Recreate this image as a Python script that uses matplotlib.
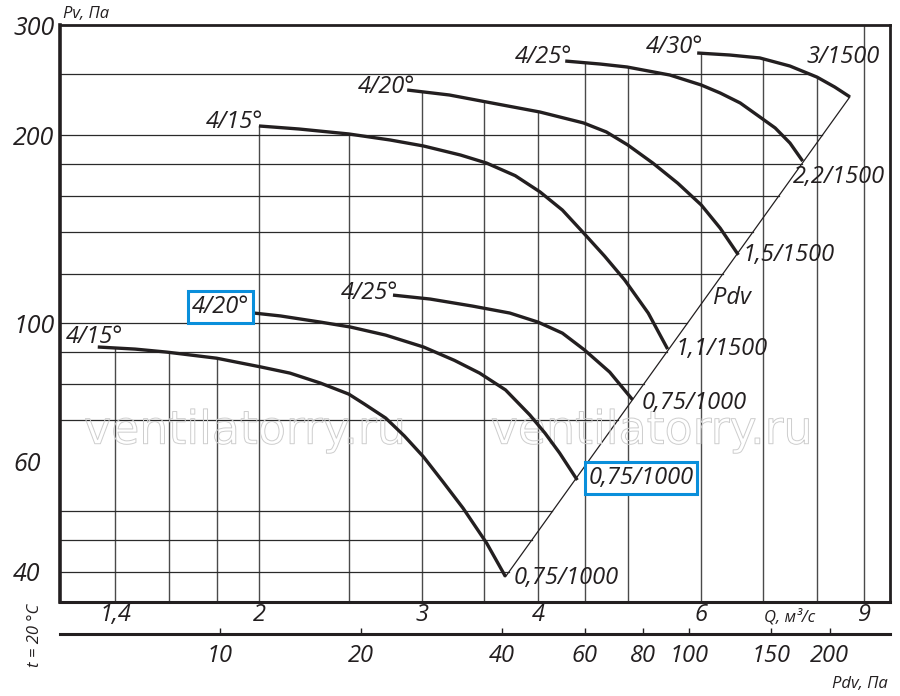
import matplotlib

matplotlib.use("Agg")
import matplotlib.patheffects as path_effects
import matplotlib.pyplot as plt
import numpy as np
from matplotlib.ticker import NullLocator

plt.rcParams["font.family"] = ["Open Sans", "DejaVu Sans"]
plt.rcParams["font.style"] = "italic"

# Fan curves: Q in m3/s, Pv in Pa.
q_low_15 = [1.34, 1.47, 1.59, 1.80, 2.01, 2.16, 2.33, 2.50, 2.60, 2.74, 2.87,
            3.01, 3.16, 3.32, 3.52, 3.69]
pv_low_15 = [91.6, 90.9, 89.9, 87.9, 85.1, 83.2, 80.2, 77.0, 74.2, 70.5, 66.0,
             61.1, 55.7, 50.6, 44.5, 39.3]
q_low_20 = [1.93, 2.11, 2.33, 2.51, 2.74, 3.01, 3.25, 3.46, 3.69, 3.92, 4.07,
            4.22, 4.41]
pv_low_20 = [104.2, 102.7, 100.4, 98.6, 95.7, 91.6, 87.2, 83.2, 78.2, 71.3, 66.7,
             62.0, 56.1]
q_low_25 = [2.79, 3.06, 3.40, 3.73, 4.00, 4.25, 4.49, 4.78, 5.06]
pv_low_25 = [110.9, 109.3, 106.5, 103.8, 100.4, 96.4, 90.6, 83.5, 75.4]
q_up_15 = [2.0, 2.21, 2.50, 2.77, 3.01, 3.30, 3.52, 3.78, 4.02, 4.25, 4.48,
           4.72, 4.96, 5.26, 5.52]
pv_up_15 = [206.8, 204.5, 200.8, 196.4, 192.1, 185.8, 180.4, 172.2, 162.2, 151.7,
            139.4, 128.0, 117.3, 103.8, 90.9]
q_up_20 = [2.89, 3.21, 3.52, 4.02, 4.48, 4.74, 5.00, 5.32, 5.66, 6.00, 6.29, 6.58]
pv_up_20 = [236.1, 231.8, 225.9, 217.7, 209.1, 202.3, 192.8, 180.4, 167.5, 154.6,
            141.9, 128.6]
q_up_25 = [4.28, 4.67, 4.99, 5.55, 6.00, 6.29, 6.61, 6.94, 7.21, 7.48, 7.72]
pv_up_25 = [262.7, 259.8, 257.0, 249.5, 240.5, 233.5, 225.1, 213.8, 205.3, 194.2,
            181.7]
q_up_30 = [5.94, 6.44, 6.94, 7.48, 8.00, 8.36, 8.68]
pv_up_30 = [270.6, 268.6, 265.7, 257.9, 247.6, 238.7, 230.2]

angle_labels = ["4/15°", "4/20°", "4/25°", "4/15°", "4/20°", "4/25°", "4/30°"]
motor_labels = ["0,75/1000", "0,75/1000", "0,75/1000",
                "1,1/1500", "1,5/1500", "2,2/1500", "3/1500"]
boxed_curve = 1

q_ticks = [1.4, 2, 3, 4, 6, 9]
q_tick_labels = ["1,4", "2", "3", "4", "6", "9"]
pv_ticks = [40, 60, 100, 200, 300]
pv_tick_labels = ["40", "60", "100", "200", "300"]
pdv_ticks = [10, 20, 40, 60, 80, 100, 150, 200]
pdv_tick_labels = ["10", "20", "40", "60", "80", "100", "150", "200"]

q_grid = [1.4, 1.6, 1.8, 2, 2.5, 3, 3.5, 4, 4.5, 5, 6, 7, 8, 9]
pv_grid = [40, 45, 50, 70, 80, 90, 100, 120, 140, 160, 180, 200, 250]

# layout (pixel offsets -> points at 100 dpi)
PX = 0.72
Q_LIM = (1.22, 9.59)
PV_LIM = (35.8, 300)
PDV_LIM = (4.56, 269)
INK = "#231f20"
BLUE = "#0a8fdb"
angle_offsets = [(25, 10), (5, 5), (5, 2), (4, 4), (8, 3), (7, 4), (6, 6)]
motor_offsets = [(8, -1, "left"), (11, 2, "left"), (9, -3, "left"), (8, 0, "left"),
                 (4, 0, "left"), (-10, -16, "left"), (30, 40, "right")]


def envelope(q_values, curves):
    # Highest curve above each Q, nan where no curve exists.
    q_values = np.asarray(q_values, dtype=float)
    top = np.full(len(q_values), np.nan)
    for q, pv in curves:
        inside = (q_values >= q[0]) & (q_values <= q[-1])
        vals = 10 ** np.interp(np.log10(q_values), np.log10(q), np.log10(pv))
        top = np.where(inside & ~(top >= vals), vals, top)
    return top


curves = [(q_low_15, pv_low_15), (q_low_20, pv_low_20), (q_low_25, pv_low_25),
          (q_up_15, pv_up_15), (q_up_20, pv_up_20), (q_up_25, pv_up_25),
          (q_up_30, pv_up_30)]

fig = plt.figure(figsize=(9, 6.96), dpi=100)
left, width = 60 / 900, 830 / 900
ax = fig.add_axes([left, 1 - 602 / 696, width, 577 / 696])
ax.set_xscale("log")
ax.set_yscale("log")
ax.set_xlim(*Q_LIM)
ax.set_ylim(*PV_LIM)

# grid, clipped to the area under the curves
for qg in q_grid:
    top = envelope([qg], curves)[0]
    if np.isnan(top):
        top = PV_LIM[1]
    ax.plot([qg, qg], [PV_LIM[0], top], color="#4a4a4a", lw=1.0, zorder=1)

ends = sorted((q[-1], pv[-1]) for q, pv in curves)
end_q = [ends[0][0], ends[-1][0]]
end_pv = [ends[0][1], ends[-1][1]]
q_dense = np.geomspace(Q_LIM[0], Q_LIM[1], 3000)
env_dense = envelope(q_dense, curves)
for pg in pv_grid:
    q_diag = 10 ** np.interp(np.log10(pg), np.log10(end_pv), np.log10(end_q))
    above = q_dense[env_dense >= pg]
    q_end = min(q_diag, above.max()) if len(above) else q_diag
    ax.plot([Q_LIM[0], q_end], [pg, pg], color="#2a2a2a", lw=0.9, zorder=1)

# Pdv line through the curve ends
ax.plot(end_q, end_pv, color=INK, lw=0.9, zorder=2)

for i, (q, pv) in enumerate(curves):
    ax.plot(q, pv, color=INK, lw=2.4, solid_capstyle="butt",
            solid_joinstyle="round", zorder=3)
    box = None
    if i == boxed_curve:
        box = dict(boxstyle="square,pad=0.16", fc="white", ec=BLUE, lw=2.2)
    dx, dy = angle_offsets[i]
    ax.annotate(angle_labels[i], (q[0], pv[0]), xytext=(dx * PX, dy * PX),
                textcoords="offset points", ha="right", va="center",
                fontsize=17, color=INK, bbox=box, zorder=4)
    dx, dy, ha = motor_offsets[i]
    ax.annotate(motor_labels[i], (q[-1], pv[-1]), xytext=(dx * PX, dy * PX),
                textcoords="offset points", ha=ha, va="center",
                fontsize=17, color=INK, bbox=box, zorder=4)

ax.text(0.81, 0.527, "Pdv", transform=ax.transAxes, ha="center", va="center",
        fontsize=17, color=INK)
ax.text(0.8795, -0.027, "Q, м³/с", transform=ax.transAxes, ha="center",
        va="center", fontsize=12, color=INK)

for xw in (0.223, 0.713):
    ax.text(xw, 0.296, "ventilatorry.ru", transform=ax.transAxes, ha="center",
            va="center", fontsize=33, family="DejaVu Sans", style="normal",
            color=(1, 1, 1, 0), zorder=2,
            path_effects=[path_effects.Stroke(linewidth=0.7, foreground="#cdcdcd")])

ax.set_xticks(q_ticks)
ax.set_xticklabels(q_tick_labels, fontsize=17, color=INK)
ax.set_yticks(pv_ticks)
ax.set_yticklabels(pv_tick_labels, fontsize=18, color=INK)
ax.xaxis.set_minor_locator(NullLocator())
ax.yaxis.set_minor_locator(NullLocator())
ax.tick_params(axis="x", length=0, pad=1)
ax.tick_params(axis="y", length=0, pad=47 * PX)
for label in ax.get_yticklabels():
    label.set_ha("left")
for side, lw in (("left", 2.6), ("bottom", 2.2), ("top", 2.0), ("right", 2.0)):
    ax.spines[side].set_linewidth(lw)
    ax.spines[side].set_color(INK)

# second scale: dynamic pressure
ax_pdv = fig.add_axes([left, 1 - 634 / 696, width, 1e-6])
ax_pdv.set_xscale("log")
ax_pdv.set_xlim(*PDV_LIM)
ax_pdv.set_yticks([])
for side in ("left", "right", "top"):
    ax_pdv.spines[side].set_visible(False)
ax_pdv.spines["bottom"].set_linewidth(2.2)
ax_pdv.spines["bottom"].set_color(INK)
ax_pdv.set_xticks(pdv_ticks)
ax_pdv.set_xticklabels(pdv_tick_labels, fontsize=17, color=INK)
ax_pdv.xaxis.set_minor_locator(NullLocator())
ax_pdv.tick_params(axis="x", direction="in", length=6 * PX, width=1.0,
                   color=INK, pad=7)
ax_pdv.patch.set_visible(False)

fig.text(63 / 900, 1 - 14 / 696, "Pv, Па", ha="left", va="center",
         fontsize=12, color=INK)
fig.text(888 / 900, 1 - 684 / 696, "Pdv, Па", ha="right", va="center",
         fontsize=12, color=INK)
fig.text(35 / 900, 1 - 635 / 696, "t = 20 °C", ha="center", va="center",
         rotation=90, fontsize=12, color=INK)

fig.savefig("out.png", dpi=100)
